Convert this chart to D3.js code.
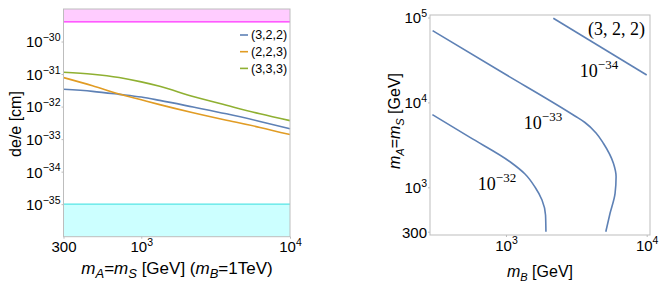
<!DOCTYPE html>
<meta charset="utf-8">
<title>EDM plots</title>
<style>
body { margin: 0; background: #fff; }
svg { font-family: "Liberation Sans", Arial, sans-serif; }
</style>
<body>
<script src="https://cdn.jsdelivr.net/npm/d3@7"></script>
<script>

// left panel: de/e versus mA=mS (mB = 1 TeV)
var massX  = [300, 470, 710, 1000, 1330, 2230, 3740, 6280, 10000];
var de322  = [3.4e-32, 2.94e-32, 2.38e-32, 1.96e-32, 1.55e-32, 9.7e-33, 6.0e-33, 3.5e-33, 2.08e-33];
var de223  = [7.8e-32, 4.37e-32, 2.45e-32, 1.62e-32, 1.15e-32, 6.46e-33, 3.8e-33, 2.29e-33, 1.38e-33];
var de333  = [1.14e-31, 9.9e-32, 7.8e-32, 5.75e-32, 4.2e-32, 2.05e-32, 1.1e-32, 6.0e-33, 3.7e-33];
var seriesNames = ["(3,2,2)", "(2,2,3)", "(3,3,3)"];
var upperBound = 4e-30;   // excluded region (pink)
var lowerBound = 1e-35;   // reach region (cyan)
var leftYTicks = [1e-30, 1e-31, 1e-32, 1e-33, 1e-34, 1e-35];
var leftXTicks = [300, 1e3, 1e4];

// right panel: contours in (mB, mA=mS) for (3,2,2)
var contour32 = [[300, 7190], [555, 3870], [1068, 2000], [1365, 1435], [1607, 1008], [1803, 709], [1910, 472], [1923, 300]];
var contour33 = [[301, 70000], [906, 23400], [3090, 6920], [3640, 5800], [4365, 4365], [4920, 3300], [5800, 1918], [6060, 1333], [5960, 849], [5490, 494], [5120, 300]];
var contour34 = [[2170, 98000], [10000, 21000]];
var contourLabels = ["\u221232", "\u221233", "\u221234"];
var rightYTicks = [300, 1e3, 1e4, 1e5];
var rightXTicks = [1e3, 1e4];

var colors = ["#5e81b5", "#e19c24", "#8fb032"];
var frameColor = "#bdbdbd";

var svg = d3.select("body").append("svg")
    .attr("width", 664)
    .attr("height", 287);

// write "10^n" as text with a superscript
function powLabel(sel, v, fs, sfs) {
  var e = Math.round(Math.log10(v));
  if (v === 300) { sel.text("300"); return; }
  sel.text("");
  sel.append("tspan").text("10");
  sel.append("tspan").attr("font-size", sfs).attr("dy", -fs * 0.42)
      .text(e < 0 ? "\u2212" + (-e) : e);
}

// ---------- left panel ----------
var x1 = d3.scaleLog().domain([300, 1e4]).range([63.5, 290]);
var y1 = d3.scaleLog().domain([1e-36, 1e-29]).range([236.7, 9]);

var g1 = svg.append("g");

g1.append("rect")
    .attr("x", x1(300)).attr("width", x1(1e4) - x1(300))
    .attr("y", y1(1e-29)).attr("height", y1(upperBound) - y1(1e-29))
    .attr("fill", "#ffccff");
g1.append("line")
    .attr("x1", x1(300)).attr("x2", x1(1e4))
    .attr("y1", y1(upperBound)).attr("y2", y1(upperBound))
    .attr("stroke", "#ff33ff").attr("stroke-width", 1.3);

g1.append("rect")
    .attr("x", x1(300)).attr("width", x1(1e4) - x1(300))
    .attr("y", y1(lowerBound)).attr("height", y1(1e-36) - y1(lowerBound))
    .attr("fill", "#ccffff");
g1.append("line")
    .attr("x1", x1(300)).attr("x2", x1(1e4))
    .attr("y1", y1(lowerBound)).attr("y2", y1(lowerBound))
    .attr("stroke", "#55e5e5").attr("stroke-width", 1.3);

var line1 = d3.line()
    .x(function(d) { return x1(d[0]); })
    .y(function(d) { return y1(d[1]); })
    .curve(d3.curveMonotoneX);

[de322, de223, de333].forEach(function(s, i) {
  g1.append("path")
      .datum(massX.map(function(m, j) { return [m, s[j]]; }))
      .attr("d", line1)
      .attr("fill", "none")
      .attr("stroke", colors[i])
      .attr("stroke-width", 1.6);
});

// frame
g1.append("rect")
    .attr("x", x1(300)).attr("y", y1(1e-29))
    .attr("width", x1(1e4) - x1(300)).attr("height", y1(1e-36) - y1(1e-29))
    .attr("fill", "none").attr("stroke", frameColor);

var ax1 = g1.append("g")
    .attr("transform", "translate(" + x1(300) + ",0)")
    .call(d3.axisLeft(y1).tickValues(leftYTicks).tickSize(2).tickPadding(1));
var bx1 = g1.append("g")
    .attr("transform", "translate(0," + y1(1e-36) + ")")
    .call(d3.axisBottom(x1).tickValues(leftXTicks).tickSize(2).tickPadding(3));

// legend
seriesNames.forEach(function(n, i) {
  var yy = 35 + i * 16.7;
  g1.append("line")
      .attr("x1", 240).attr("x2", 248).attr("y1", yy).attr("y2", yy)
      .attr("stroke", colors[i]).attr("stroke-width", 1.6);
  g1.append("text")
      .attr("x", 251).attr("y", yy + 4.3)
      .attr("font-size", 12.5)
      .text(n);
});

// axis titles
var t1 = g1.append("text")
    .attr("x", 177).attr("y", 274)
    .attr("text-anchor", "middle")
    .attr("font-size", 17);
t1.append("tspan").attr("font-style", "italic").text("m");
t1.append("tspan").attr("font-style", "italic").attr("font-size", 13).attr("dy", 4).text("A");
t1.append("tspan").attr("dy", -4).text("=");
t1.append("tspan").attr("font-style", "italic").text("m");
t1.append("tspan").attr("font-style", "italic").attr("font-size", 13).attr("dy", 4).text("S");
t1.append("tspan").attr("dy", -4).text(" [GeV] (");
t1.append("tspan").attr("font-style", "italic").text("m");
t1.append("tspan").attr("font-style", "italic").attr("font-size", 13).attr("dy", 4).text("B");
t1.append("tspan").attr("dy", -4).text("=1TeV)");

g1.append("text")
    .attr("transform", "translate(21,124) rotate(-90)")
    .attr("text-anchor", "middle")
    .attr("font-size", 16)
    .text("de/e [cm]");

// ---------- right panel ----------
var x2 = d3.scaleLog().domain([300, 1e4]).range([432.4, 646.7]);
var y2 = d3.scaleLog().domain([300, 1e5]).range([231.7, 17.5]);

var g2 = svg.append("g");

g2.append("rect")
    .attr("x", 430).attr("y", 15).attr("width", 220).attr("height", 220)
    .attr("fill", "none").attr("stroke", frameColor);

// contours run top to bottom, so smooth them monotone in y
var line2 = d3.line()
    .x(function(d) { return x2(d[0]); })
    .y(function(d) { return y2(d[1]); })
    .curve(d3.curveMonotoneY);

[contour32, contour33, contour34].forEach(function(c) {
  g2.append("path")
      .datum(c)
      .attr("d", line2)
      .attr("fill", "none")
      .attr("stroke", colors[0])
      .attr("stroke-width", 1.6);
});

var ax2 = g2.append("g")
    .attr("transform", "translate(430,0)")
    .call(d3.axisLeft(y2).tickValues(rightYTicks).tickSize(2).tickPadding(1));
var bx2 = g2.append("g")
    .attr("transform", "translate(0,235)")
    .call(d3.axisBottom(x2).tickValues(rightXTicks).tickSize(2).tickPadding(3));

// style all axes like the frame, with power labels
[ax1, bx1, ax2, bx2].forEach(function(a) {
  a.select(".domain").remove();
  a.selectAll(".tick line").attr("stroke", frameColor);
  a.selectAll(".tick text")
      .attr("fill", "#000")
      .attr("font-size", 15)
      .attr("font-family", "'Liberation Sans', Arial, sans-serif")
      .each(function(d) { powLabel(d3.select(this), d, 15, 10.5); });
});
[ax1, ax2].forEach(function(a) {
  a.selectAll(".tick text").attr("dy", "0.36em");
});
[bx1, bx2].forEach(function(a) {
  a.selectAll(".tick text").attr("dy", "0.71em");
});

// contour labels
var labelPos = [[497, 190], [543, 129], [599, 77]];
contourLabels.forEach(function(s, i) {
  var t = g2.append("text")
      .attr("x", labelPos[i][0]).attr("y", labelPos[i][1])
      .attr("text-anchor", "middle")
      .attr("font-family", "'Liberation Serif', 'Times New Roman', serif")
      .attr("font-size", 18);
  t.append("tspan").text("10");
  t.append("tspan").attr("font-size", 13).attr("dy", -8).text(s);
});

g2.append("text")
    .attr("x", 645).attr("y", 35)
    .attr("text-anchor", "end")
    .attr("font-family", "'Liberation Serif', 'Times New Roman', serif")
    .attr("font-size", 18)
    .text("(3, 2, 2)");

var t2 = g2.append("text")
    .attr("x", 540).attr("y", 277)
    .attr("text-anchor", "middle")
    .attr("font-size", 16);
t2.append("tspan").attr("font-style", "italic").text("m");
t2.append("tspan").attr("font-style", "italic").attr("font-size", 11).attr("dy", 4).text("B");
t2.append("tspan").attr("dy", -4).text(" [GeV]");

var t3 = g2.append("text")
    .attr("transform", "translate(400,121) rotate(-90)")
    .attr("text-anchor", "middle")
    .attr("font-size", 16);
t3.append("tspan").attr("font-style", "italic").text("m");
t3.append("tspan").attr("font-style", "italic").attr("font-size", 11).attr("dy", 4).text("A");
t3.append("tspan").attr("dy", -4).text("=");
t3.append("tspan").attr("font-style", "italic").text("m");
t3.append("tspan").attr("font-style", "italic").attr("font-size", 11).attr("dy", 4).text("S");
t3.append("tspan").attr("dy", -4).text(" [GeV]");

</script>
</body>
